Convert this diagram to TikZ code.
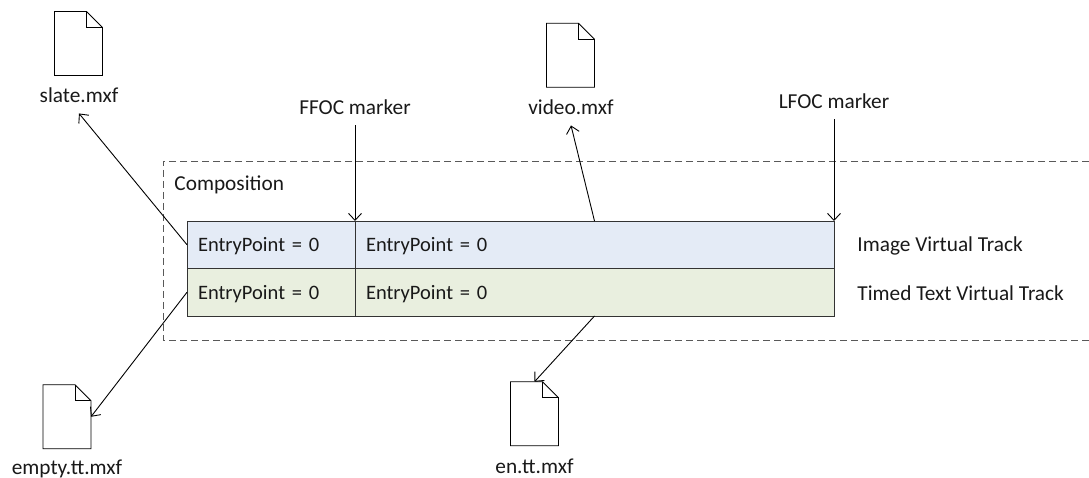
\documentclass[tikz,border=0pt]{standalone}
\usepackage{fontspec}
\setmainfont{Carlito}
\usetikzlibrary{arrows.meta}

\begin{document}
\begin{tikzpicture}[x=1pt,y=-1pt,>={Straight Barb[length=7pt,width=13pt]},line width=0.9pt,
    every node/.style={font=\fontsize{21.3}{24}\selectfont,text=black!90}]
  \tikzstyle{cell}=[draw=black!80,outer sep=0pt,inner ysep=0pt,inner xsep=11pt,minimum height=47.5pt,
                    font=\fontsize{20.5}{24}\selectfont,text height=16pt,text depth=2pt,text width=#1,align=left]
  \tikzstyle{fileicon}=[minimum width=48pt,minimum height=64pt,inner sep=0pt,outer sep=0pt]
  \tikzstyle{filelabel}=[inner sep=0pt,minimum height=36pt]
  \tikzstyle{tracklabel}=[anchor=west,inner sep=0pt]
  \useasboundingbox (0,0) rectangle (1089,478);

  \draw[dashed,dash pattern=on 7pt off 4pt,draw=black!65] (1089,161) -- (163,161) -- (163,340) -- (1089,340);
  \node[tracklabel] (composition) at (174,185) {Composition};

  \foreach \name/\x/\y in {slate/78.5/43.5, empty/67/416.75, video/570.5/55.25, en/534.5/413.75}
  {
    \node[fileicon] (F-\name) at (\x,\y) {};
    \draw[fill=white] (F-\name.north west) -- ([xshift=-16pt]F-\name.north east) -- ([yshift=-16pt]F-\name.north east)
      -- (F-\name.south east) -- (F-\name.south west) -- cycle;
    \draw ([xshift=-16pt]F-\name.north east) -- ([xshift=-16pt,yshift=-16pt]F-\name.north east) -- ([yshift=-16pt]F-\name.north east);
  }

  \node[filelabel] (L-slate) at (79,95) {slate.mxf};
  \node[filelabel] (L-empty) at (67,469) {empty.tt.mxf};
  \node[filelabel] (L-video) at (571,107) {video.mxf};
  \node[filelabel] (L-en) at (534.5,466) {en.tt.mxf};
  \node[filelabel] (L-ffoc) at (355,107) {FFOC marker};
  \node[filelabel] (L-lfoc) at (834,101) {LFOC marker};

  % two rows, two cells each
  \foreach \name/\y/\colour in {I/244.75/E4EBF6, T/292.25/E9EFDF}
  {
    \definecolor{rowcolour}{HTML}{\colour}
    \node[cell=146pt,fill=rowcolour,anchor=east] (\name-a) at (355,\y) {EntryPoint = 0};
    \node[cell=457pt,fill=rowcolour,anchor=west] (\name-b) at (355,\y) {EntryPoint = 0};
  }

  \node[tracklabel] (track-i) at (857,246) {Image Virtual Track};
  \node[tracklabel] (track-t) at (857,293) {Timed Text Virtual Track};

  \draw[->] (I-a.west) -- (L-slate.south);
  \draw[->] (T-a.west) -- (F-empty.east);
  \draw[->] (I-b.north) -- (L-video.south);
  \draw[->] (T-b.south) -- (F-en.north);
  \draw[->] (L-ffoc.south) -- (I-a.north east);
  \draw[->] (L-lfoc.south) -- (I-b.north east);
\end{tikzpicture}
\end{document}
